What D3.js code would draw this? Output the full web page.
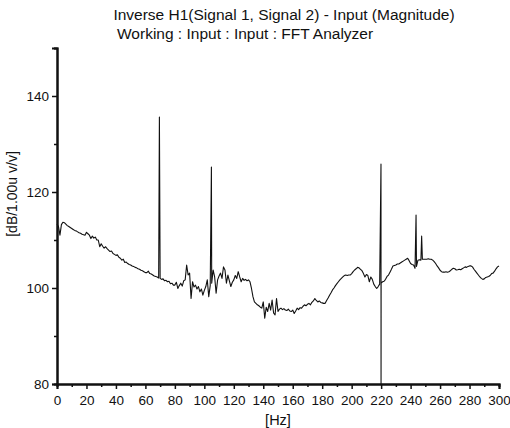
<!DOCTYPE html>
<html>
<head>
<meta charset="utf-8">
<script src="https://cdn.jsdelivr.net/npm/d3@7/dist/d3.min.js"></script>
<style>
  body { margin: 0; background: #fff; }
  svg { display: block; }
  text { font-family: "Liberation Sans", Arial, sans-serif; fill: #111; }
</style>
</head>
<body>
<svg id="chart" width="510" height="428"></svg>
<script>
// ---- data ----
const titleLines = ["Inverse H1(Signal 1, Signal 2) - Input (Magnitude)", "Working : Input : Input : FFT Analyzer"];
const xLabel = "[Hz]";
const yLabel = "[dB/1.00u v/v]";
const xTicks = [0,20,40,60,80,100,120,140,160,180,200,220,240,260,280,300];
const yTicks = [80,100,120,140];
// magnitude at 1 Hz steps, 0..300 Hz
const magnitude = [
  113.3,112.8,111.0,113.2,113.7,113.6,113.3,113.0,112.8,112.6,
  112.4,112.2,112.0,111.9,111.7,111.5,111.4,111.2,111.1,111.0,
  111.6,111.3,111.0,110.3,110.8,110.4,110.6,110.0,110.0,108.6,
  109.2,108.7,108.3,108.6,108.2,107.9,107.6,107.7,107.2,107.0,
  106.8,106.9,106.4,106.2,105.8,106.0,105.3,105.4,105.1,104.9,
  104.8,104.6,104.5,104.3,104.2,104.0,103.9,103.7,103.6,103.4,
  103.2,103.2,103.5,103.0,102.9,102.7,102.5,102.4,102.3,102.1,
  102.0,101.8,101.9,101.5,101.6,101.3,101.4,100.9,101.0,100.6,
  100.6,101.2,99.9,100.5,101.0,100.4,101.5,101.7,104.8,102.7,
  103.1,97.8,101.3,100.2,100.6,99.8,100.3,99.2,99.8,98.5,
  99.5,100.3,101.7,98.2,100.5,101.0,103.75,102.3,98.9,101.7,
  102.5,103.1,102.0,104.4,103.75,101.0,102.7,101.5,100.3,101.2,
  101.7,102.6,102.0,103.4,102.3,101.3,102.0,101.6,101.8,101.5,
  101.7,101.3,99.9,98.2,97.1,96.8,96.5,96.3,96.0,95.8,
  97.1,93.7,96.0,95.1,96.8,95.4,97.5,94.8,94.4,97.8,
  95.1,95.6,95.8,95.5,95.7,95.4,95.3,95.6,95.2,95.1,
  95.4,94.7,95.2,95.8,95.5,95.9,95.8,96.2,96.5,96.3,
  96.6,96.8,96.5,97.0,97.3,97.8,97.4,97.1,97.3,97.0,
  96.9,96.8,96.8,97.4,97.9,98.5,99.0,99.6,100.0,100.5,
  100.9,101.3,101.7,102.0,102.3,102.6,102.7,102.6,102.7,102.7,
  103.0,103.4,103.75,104.0,104.3,104.2,103.9,103.6,103.0,102.3,
  102.8,102.6,101.3,102.3,101.8,100.8,100.3,99.9,100.3,100.8,
  101.0,101.3,101.4,101.8,102.4,102.7,103.3,103.9,104.6,104.7,
  104.8,105.0,105.0,105.2,105.4,105.6,105.8,106.0,106.2,105.7,
  105.1,104.9,104.8,104.1,104.5,105.8,105.9,105.8,106.0,106.0,
  106.0,106.0,106.1,106.0,106.0,105.8,105.5,105.1,104.6,104.2,
  103.7,103.4,103.3,103.3,103.4,103.3,103.4,103.6,103.9,104.1,
  104.0,103.75,103.8,103.9,103.8,104.0,104.2,104.4,104.3,104.5,
  104.6,104.6,104.4,103.9,103.5,103.1,102.7,102.3,102.0,101.8,
  101.9,102.2,102.3,102.4,102.6,103.0,103.1,103.5,104.0,104.4,
  104.6
];
// narrow spikes (harmonics)
const spikeFreq   = [69.5, 104.8, 219.9, 243.7, 247.5];
const spikeTop    = [135.6, 125.2, 125.8, 115.2, 110.8];
const spikeBottom = [null, null, 80, null, null];

// ---- layout ----
const svg = d3.select("#chart");
const m = {left: 57, right: 11, top: 48, bottom: 44};
const W = 510, H = 428;
const x = d3.scaleLinear().domain([0, 300]).range([m.left, W - m.right]);
const y = d3.scaleLinear().domain([80, 150]).range([H - m.bottom, m.top]);
const FONT = "Liberation Sans, Arial, sans-serif";

// title
svg.append("text").attr("x", 284).attr("y", 20).attr("text-anchor", "middle")
  .style("font-size", "15.5px").text(titleLines[0]);
svg.append("text").attr("x", 117).attr("y", 39).attr("text-anchor", "start")
  .style("font-size", "15.5px").text(titleLines[1]);

// build points
const pts = magnitude.map((v, i) => ({f: i, v}));
spikeFreq.forEach((f, i) => {
  pts.push({f, v: spikeTop[i]});
  if (spikeBottom[i] !== null) pts.push({f: f + 0.05, v: spikeBottom[i]});
});
pts.sort((a, b) => a.f - b.f);

svg.append("path").datum(pts)
  .attr("fill", "none").attr("stroke", "#111").attr("stroke-width", 1.1)
  .attr("stroke-linejoin", "round")
  .attr("d", d3.line().x(d => x(d.f)).y(d => y(d.v)));

// x axis
const xAxisG = svg.append("g").attr("transform", `translate(0,${y(80)})`);
xAxisG.call(d3.axisBottom(x).tickValues(xTicks).tickSize(5).tickPadding(6).tickFormat(d3.format("d")));
xAxisG.append("g").call(d3.axisBottom(x).tickValues(d3.range(10, 300, 20)).tickSize(3).tickFormat(""));
xAxisG.selectAll(".domain").attr("stroke", "#111").attr("stroke-width", 2);
xAxisG.selectAll(".tick line").attr("stroke", "#111").attr("stroke-width", 1.5);
xAxisG.selectAll("text").style("font-size", "13.5px").style("font-family", FONT).attr("fill", "#111");

// y axis
const yAxisG = svg.append("g").attr("transform", `translate(${x(0)},0)`);
yAxisG.call(d3.axisLeft(y).tickValues(yTicks).tickSize(5).tickPadding(3).tickFormat(d3.format("d")));
yAxisG.append("g").call(d3.axisLeft(y).tickValues([90, 110, 130, 150]).tickSize(3).tickFormat(""));
yAxisG.selectAll(".domain").attr("stroke", "#111").attr("stroke-width", 2);
yAxisG.selectAll(".tick line").attr("stroke", "#111").attr("stroke-width", 1.5);
yAxisG.selectAll("text").style("font-size", "13.5px").style("font-family", FONT).attr("fill", "#111");

// axis labels
svg.append("text").attr("x", (x(0) + x(300)) / 2).attr("y", 425).attr("text-anchor", "middle")
  .style("font-size", "14.5px").text(xLabel);
svg.append("text").attr("transform", `translate(17,194) rotate(-90)`)
  .attr("text-anchor", "middle").style("font-size", "14px").text(yLabel);
</script>
</body>
</html>
